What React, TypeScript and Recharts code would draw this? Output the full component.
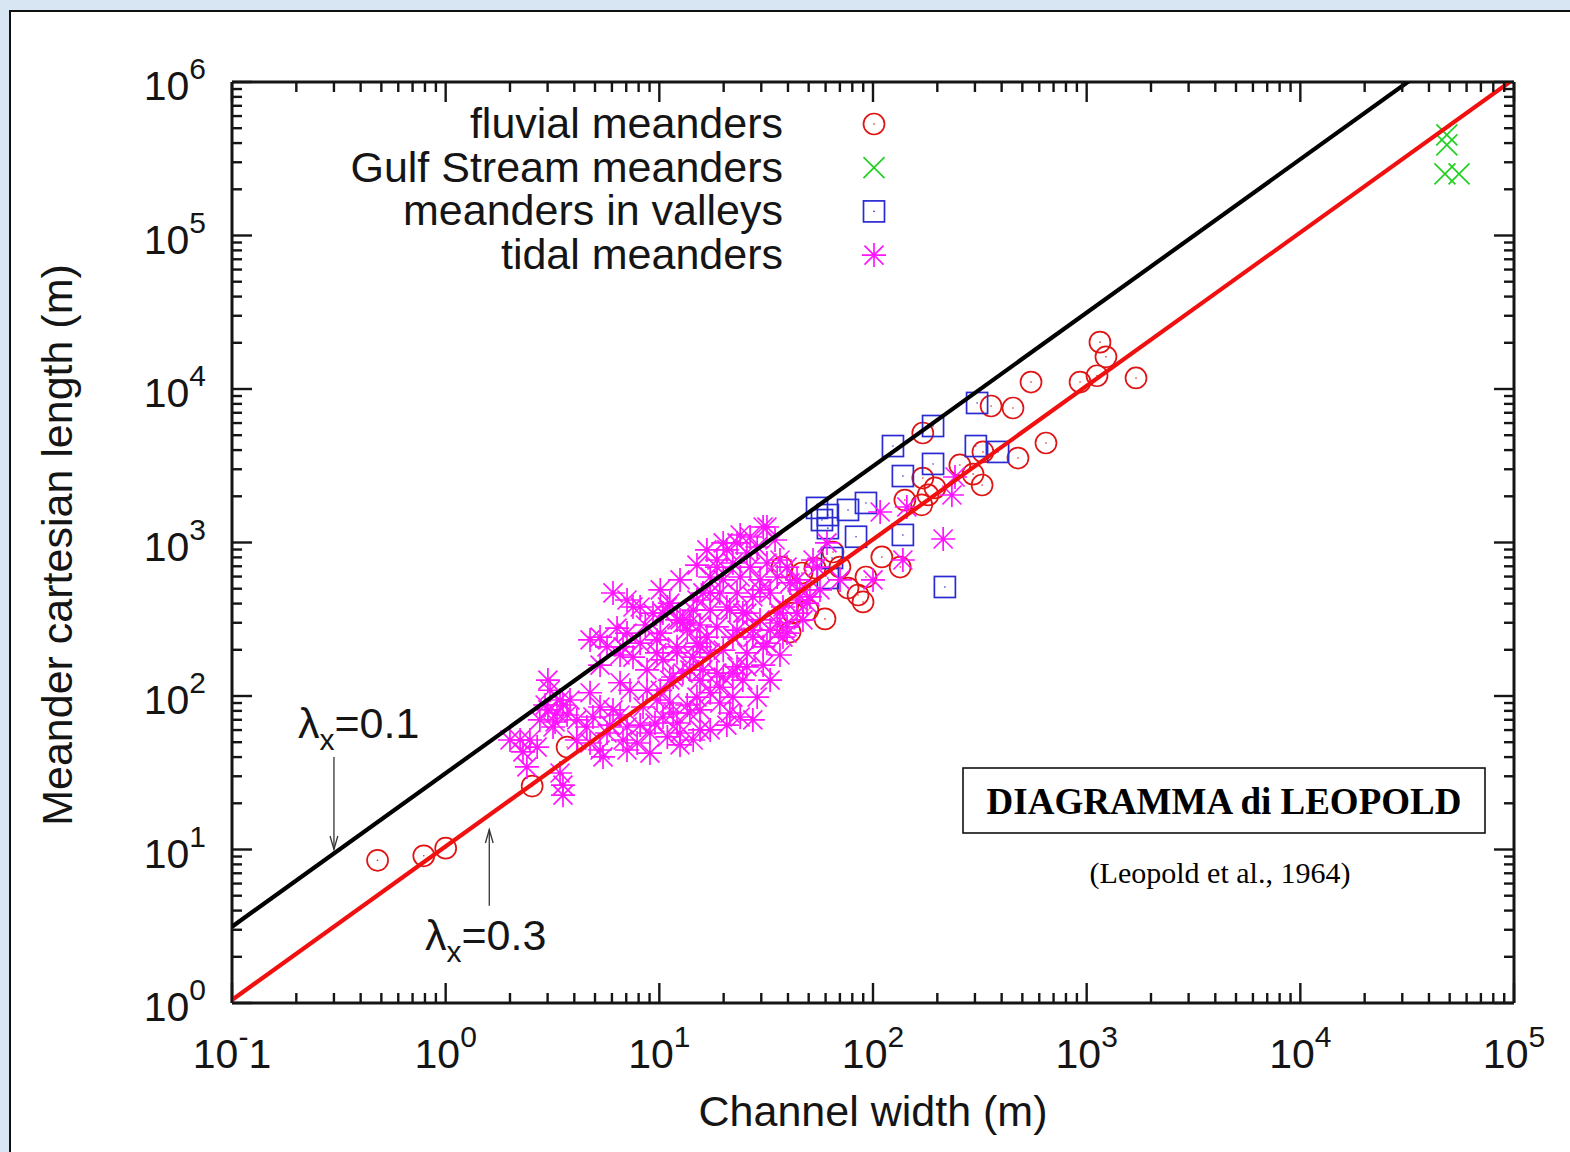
import React from 'react';
import { ScatterChart, Scatter, XAxis, YAxis, ReferenceLine } from 'recharts';

type Pt = { w: number; l: number };
const toPts = (rows: number[][]): Pt[] => rows.map(([w, l]) => ({ w, l }));

// Channel width W (m) vs meander cartesian length L (m)
const fluvialMeanders = toPts([
  [0.48, 8.5], [0.79, 9.1], [1.0, 10.2], [2.54, 25.9], [3.7, 46.5],
  [37.5, 692], [46.5, 633], [53.5, 682], [65, 867], [70, 692],
  [42.2, 347], [49.6, 363], [59.6, 318], [40.9, 261], [76.4, 505],
  [85.1, 455], [89.8, 410], [92.7, 596], [110, 805], [134, 692],
  [141, 1890], [169, 1760], [171, 2630], [181, 2040], [195, 2270],
  [171, 5170], [255, 3200], [294, 2790], [327, 3890], [324, 2370],
  [357, 7750], [452, 7520], [477, 3550], [549, 11100], [645, 4450],
  [931, 11100], [1118, 12200], [1154, 20200], [1231, 16200], [1702, 11800],
]);

const gulfStreamMeanders = toPts([
  [48500, 452000], [48500, 389000], [47500, 252000], [55300, 252000],
]);

const valleyMeanders = toPts([
  [307, 8110], [191, 5740], [124, 4250], [191, 3250], [138, 2710],
  [303, 4250], [385, 3890], [92.7, 1810], [76.4, 1630], [54.7, 1680],
  [61.5, 1510], [61.5, 1240], [83.3, 1090], [138, 1120], [64.3, 792],
  [61.5, 587], [217, 513], [57.7, 1400],
]);

const tidalMeanders = toPts([
  [2.0, 51.7], [2.23, 51.7], [2.48, 51.7], [2.3, 43.2], [2.68, 46.5], [2.4, 34.5],
  [3.43, 31.5], [3.54, 26.3], [3.54, 22.6], [3.01, 127], [3.08, 109], [3.01, 81.1],
  [3.32, 77.5], [3.54, 87.4], [3.82, 94.2], [4.11, 69.8], [4.58, 62.8], [4.74, 49.4],
  [4.11, 51.7], [5.28, 44.5], [5.69, 57.4], [4.74, 105], [5.28, 84.8], [6.07, 81.1],
  [6.55, 122], [7.29, 109], [6.55, 75.2], [7.06, 62.8], [6.76, 51.7], [7.87, 49.4],
  [9.04, 42.5], [9.04, 57.4], [10.9, 54.1], [12.5, 57.4], [15.5, 60.1], [13.9, 77.5],
  [11.2, 90], [9.75, 94.2], [8.39, 84.8], [10.4, 73], [12.1, 66.7], [15.0, 98.4],
  [17.3, 105], [19.2, 90], [21.4, 77.5], [23.9, 73], [19.9, 133], [23.1, 155],
  [24.6, 127], [16.0, 148], [12.9, 141], [11.2, 127], [8.76, 148], [7.53, 179],
  [9.75, 191], [12.1, 191], [14.4, 179], [17.3, 191], [8.76, 109], [4.74, 232],
  [5.69, 209], [6.76, 209], [5.28, 242], [6.07, 469], [7.06, 422], [8.13, 380],
  [9.34, 347], [11.2, 403], [12.5, 313], [7.06, 257], [8.13, 221], [9.75, 232],
  [12.1, 209], [13.5, 269], [15.0, 422], [15.0, 221], [10.4, 347], [12.9, 299],
  [15.5, 290], [18.6, 282], [23.1, 269], [27.4, 242], [31.9, 221], [10.1, 257],
  [15.5, 209], [19.9, 199], [25.7, 191], [10.4, 172], [14.4, 363], [17.3, 363],
  [21.4, 363], [25.7, 347], [29.6, 313], [35.6, 299], [39.6, 257], [16.0, 469],
  [19.2, 469], [23.1, 469], [27.4, 442], [33.0, 469], [37.9, 380], [44.1, 422],
  [50.7, 442], [17.3, 596], [19.9, 570], [23.9, 596], [29.6, 570], [35.6, 596],
  [40.9, 545], [18.6, 769], [22.1, 735], [26.6, 692], [31.9, 735], [20.7, 894],
  [23.1, 993], [25.7, 854], [28.7, 935], [26.6, 1086], [30.6, 1262], [54.7, 692],
  [60.9, 993], [39.6, 692], [44.1, 570], [36.7, 347], [52.4, 769], [70.1, 570],
  [100, 570], [138, 769], [213, 1054], [108, 1580], [144, 1703], [242, 2672],
  [234, 2039], [3.18, 62.8], [2.76, 69.8], [5.45, 40.1], [7.06, 44.5], [10.1, 109],
  [11.6, 77.5], [22.1, 98.4], [19.2, 114], [22.1, 141], [18.6, 141], [15.5, 127],
  [13.9, 148], [11.6, 133], [25.7, 155], [30.6, 209], [22.1, 242], [16.7, 242],
  [27.4, 269], [37.9, 242], [39.6, 282], [44.1, 347], [49.1, 403], [45.5, 491],
  [31.9, 1262], [19.9, 993], [18.6, 692], [7.53, 380], [10.9, 380], [12.1, 313],
  [13.9, 299], [17.3, 469], [20.7, 380], [24.6, 347], [29.6, 491],
  [2.92, 87.4], [3.43, 94.2], [3.25, 67.7], [3.7, 75.2], [4.89, 73], [5.87, 64.7],
  [8.13, 64.7], [9.54, 66.7], [12.5, 48], [14.4, 51.7], [17.3, 60.1], [20.7, 64.7],
  [27.4, 69.8], [15.5, 81.1], [13.5, 87.4], [28.7, 98.4], [33.0, 127], [30.6, 159],
  [36.7, 185], [33.0, 269], [47.0, 313], [56.5, 491], [6.55, 185], [5.28, 159],
  [6.34, 277], [8.6, 290], [10.1, 491], [12.5, 570], [15.0, 713], [16.7, 894],
  [23.9, 1119], [34.8, 1038], [36.7, 769],
]);

const seriesNames = ['fluvial meanders', 'Gulf Stream meanders', 'meanders in valleys', 'tidal meanders'];

// Axis decades (exponents of ten) and minor steps inside each decade
const xDecades = [-1, 0, 1, 2, 3, 4, 5];
const yDecades = [0, 1, 2, 3, 4, 5, 6];
const minorSteps = [2, 3, 4, 5, 6, 7, 8, 9];

// Guide lines L = pi * W / lambda_x
const lambdaLines = [0.1, 0.3];
// Arrow annotations: [lambda, W, L at tail, L at tip]
const lambdaArrows = [
  [0.1, 0.3, 40, 10],
  [0.3, 1.6, 4.3, 13.5],
];

const FONT = '"Liberation Sans", Arial, Helvetica, sans-serif';
const SERIF = '"Liberation Serif", "Times New Roman", serif';
const INK = '#151515';
const C_FLUVIAL = '#e01414';
const C_GULF = '#22d022';
const C_VALLEY = '#2a2ad2';
const C_TIDAL = '#ff14ff';

const X_MIN = Math.pow(10, xDecades[0]);
const X_MAX = Math.pow(10, xDecades[xDecades.length - 1]);
const Y_MIN = Math.pow(10, yDecades[0]);
const Y_MAX = Math.pow(10, yDecades[yDecades.length - 1]);

const buildTicks = (decades: number[]) => {
  const out: number[] = [];
  decades.forEach((d, i) => {
    const base = Math.pow(10, d);
    out.push(base);
    if (i < decades.length - 1) minorSteps.forEach((m) => out.push(m * base));
  });
  return out;
};
const xTicks = buildTicks(xDecades);
const yTicks = buildTicks(yDecades);

const isMajor = (v: number) => Math.abs(Math.log10(v) - Math.round(Math.log10(v))) < 1e-6;

const MAJOR = 20;
const MINOR = 10;
const TICK_W = 2.4;

const DecadeLabel = ({ x, y, exp, anchor }: { x: number; y: number; exp: number; anchor: 'middle' | 'end' }) => (
  <text x={x} y={y} textAnchor={anchor} fontFamily={FONT} fontSize={41} fill={INK}>
    <tspan>10</tspan>
    {exp < 0 ? (
      <>
        <tspan dy={-21} fontSize={30}>-</tspan>
        <tspan dy={21}>{Math.abs(exp)}</tspan>
      </>
    ) : (
      <tspan dy={-21} fontSize={30}>{exp}</tspan>
    )}
  </text>
);

const BottomTick = (p: any) => {
  const { x, y, payload } = p;
  const major = isMajor(payload.value);
  return (
    <g>
      <line x1={x} y1={y} x2={x} y2={y - (major ? MAJOR : MINOR)} stroke={INK} strokeWidth={TICK_W} />
      {major && <DecadeLabel x={x} y={y + 65} exp={Math.round(Math.log10(payload.value))} anchor="middle" />}
    </g>
  );
};

const TopTick = (p: any) => {
  const { x, y, payload } = p;
  const major = isMajor(payload.value);
  return <line x1={x} y1={y} x2={x} y2={y + (major ? MAJOR : MINOR)} stroke={INK} strokeWidth={TICK_W} />;
};

const LeftTick = (p: any) => {
  const { x, y, payload } = p;
  const major = isMajor(payload.value);
  return (
    <g>
      <line x1={x} y1={y} x2={x + (major ? MAJOR : MINOR)} y2={y} stroke={INK} strokeWidth={TICK_W} />
      {major && <DecadeLabel x={x - 26} y={y + 18} exp={Math.round(Math.log10(payload.value))} anchor="end" />}
    </g>
  );
};

const RightTick = (p: any) => {
  const { x, y, payload } = p;
  const major = isMajor(payload.value);
  return <line x1={x} y1={y} x2={x - (major ? MAJOR : MINOR)} y2={y} stroke={INK} strokeWidth={TICK_W} />;
};

type Kind = 'ring' | 'cross' | 'square' | 'star';

const Marker = ({ kind, cx, cy }: { kind: Kind; cx: number; cy: number }) => {
  const sw = 1.7;
  if (kind === 'ring') {
    return (
      <g>
        <circle cx={cx} cy={cy} r={10.5} fill="none" stroke={C_FLUVIAL} strokeWidth={sw} />
        <circle cx={cx} cy={cy} r={0.8} fill={C_FLUVIAL} />
      </g>
    );
  }
  if (kind === 'square') {
    return (
      <g>
        <rect x={cx - 10.5} y={cy - 10.5} width={21} height={21} fill="none" stroke={C_VALLEY} strokeWidth={sw} />
        <circle cx={cx} cy={cy} r={0.8} fill={C_VALLEY} />
      </g>
    );
  }
  if (kind === 'cross') {
    const s = 10.5;
    return (
      <path
        d={`M${cx - s},${cy - s}L${cx + s},${cy + s}M${cx - s},${cy + s}L${cx + s},${cy - s}`}
        stroke={C_GULF}
        strokeWidth={sw}
        fill="none"
      />
    );
  }
  const a = 12;
  const b = 9.5;
  return (
    <path
      d={`M${cx - a},${cy}L${cx + a},${cy}M${cx},${cy - a}L${cx},${cy + a}M${cx - b},${cy - b}L${cx + b},${cy + b}M${cx - b},${cy + b}L${cx + b},${cy - b}`}
      stroke={C_TIDAL}
      strokeWidth={sw}
      fill="none"
    />
  );
};

const shapeOf = (kind: Kind) => (p: any) => <Marker kind={kind} cx={p.cx} cy={p.cy} />;

const ArrowShape = (p: any) => {
  const { x1, y1, x2, y2 } = p;
  const ang = Math.atan2(y2 - y1, x2 - x1);
  const L = 14;
  const spread = 0.28;
  const ax = x2 - L * Math.cos(ang - spread);
  const ay = y2 - L * Math.sin(ang - spread);
  const bx = x2 - L * Math.cos(ang + spread);
  const by = y2 - L * Math.sin(ang + spread);
  return (
    <g>
      <line x1={x1} y1={y1} x2={x2} y2={y2} stroke="#333" strokeWidth={1.3} />
      <polyline points={`${ax},${ay} ${x2},${y2} ${bx},${by}`} fill="none" stroke="#333" strokeWidth={1.3} />
    </g>
  );
};

const legendKinds: Kind[] = ['ring', 'cross', 'square', 'star'];

export default function App() {
  const W = 1570;
  const H = 1152;
  return (
    <div style={{ position: 'absolute', left: 0, top: 0, width: W, height: H, overflow: 'hidden', background: '#d8e5f3' }}>
      <div
        style={{
          position: 'absolute',
          left: 9,
          top: 10,
          width: 1620,
          height: 1220,
          background: '#ffffff',
          border: '2px solid #111',
          boxSizing: 'border-box',
        }}
      />
      <div style={{ position: 'absolute', left: 0, top: 0 }}>
        <ScatterChart width={W} height={H} margin={{ top: 62, right: 36, bottom: 89, left: 132 }}>
          <XAxis
            xAxisId="b"
            dataKey="w"
            type="number"
            scale="log"
            domain={[X_MIN, X_MAX]}
            allowDataOverflow
            ticks={xTicks}
            interval={0}
            tick={BottomTick}
            tickLine={false}
            tickSize={0}
            tickMargin={0}
            height={60}
            axisLine={{ stroke: INK, strokeWidth: 3 }}
          />
          <XAxis
            xAxisId="t"
            orientation="top"
            dataKey="w"
            type="number"
            scale="log"
            domain={[X_MIN, X_MAX]}
            allowDataOverflow
            ticks={xTicks}
            interval={0}
            tick={TopTick}
            tickLine={false}
            tickSize={0}
            tickMargin={0}
            height={20}
            axisLine={{ stroke: INK, strokeWidth: 3 }}
          />
          <YAxis
            yAxisId="l"
            dataKey="l"
            type="number"
            scale="log"
            domain={[Y_MIN, Y_MAX]}
            allowDataOverflow
            ticks={yTicks}
            interval={0}
            tick={LeftTick}
            tickLine={false}
            tickSize={0}
            tickMargin={0}
            width={100}
            axisLine={{ stroke: INK, strokeWidth: 3 }}
          />
          <YAxis
            yAxisId="r"
            orientation="right"
            dataKey="l"
            type="number"
            scale="log"
            domain={[Y_MIN, Y_MAX]}
            allowDataOverflow
            ticks={yTicks}
            interval={0}
            tick={RightTick}
            tickLine={false}
            tickSize={0}
            tickMargin={0}
            width={20}
            axisLine={{ stroke: INK, strokeWidth: 3 }}
          />
          <Scatter name={seriesNames[0]} data={fluvialMeanders} xAxisId="b" yAxisId="l" shape={shapeOf('ring')} isAnimationActive={false} />
          <Scatter name={seriesNames[1]} data={gulfStreamMeanders} xAxisId="b" yAxisId="l" shape={shapeOf('cross')} isAnimationActive={false} />
          <Scatter name={seriesNames[2]} data={valleyMeanders} xAxisId="b" yAxisId="l" shape={shapeOf('square')} isAnimationActive={false} />
          <Scatter name={seriesNames[3]} data={tidalMeanders} xAxisId="b" yAxisId="l" shape={shapeOf('star')} isAnimationActive={false} />
          {lambdaLines.map((lam, i) => (
            <ReferenceLine
              key={`lam-${lam}`}
              xAxisId="b"
              yAxisId="l"
              segment={[
                { x: X_MIN, y: (Math.PI * X_MIN) / lam },
                { x: X_MAX, y: (Math.PI * X_MAX) / lam },
              ]}
              ifOverflow="hidden"
              stroke={i === 0 ? '#000000' : '#f01010'}
              strokeWidth={4.2}
              zIndex={700}
            />
          ))}
          {lambdaArrows.map(([lam, w, l0, l1]) => (
            <ReferenceLine
              key={`arrow-${lam}`}
              xAxisId="b"
              yAxisId="l"
              segment={[
                { x: w, y: l0 },
                { x: w, y: l1 },
              ]}
              ifOverflow="visible"
              shape={ArrowShape}
              zIndex={700}
            />
          ))}
        </ScatterChart>
      </div>
      <svg
        width={W}
        height={H}
        style={{ position: 'absolute', left: 0, top: 0, pointerEvents: 'none' }}
      >
        {seriesNames.map((name, i) => (
          <g key={name}>
            <text x={783} y={138 + i * 43.7} textAnchor="end" fontFamily={FONT} fontSize={43} fill={INK}>
              {name}
            </text>
            <Marker kind={legendKinds[i]} cx={874} cy={124 + i * 43.7} />
          </g>
        ))}
        <text x={873} y={1126} textAnchor="middle" fontFamily={FONT} fontSize={43} fill={INK}>
          Channel width (m)
        </text>
        <text
          x={0}
          y={0}
          transform="translate(72,545) rotate(-90)"
          textAnchor="middle"
          fontFamily={FONT}
          fontSize={43}
          fill={INK}
        >
          Meander cartesian length (m)
        </text>
        <text x={298} y={738} fontFamily={FONT} fontSize={43} fill={INK}>
          <tspan>λ</tspan>
          <tspan dy={12} fontSize={30}>x</tspan>
          <tspan dy={-12}>=0.1</tspan>
        </text>
        <text x={425} y={950} fontFamily={FONT} fontSize={43} fill={INK}>
          <tspan>λ</tspan>
          <tspan dy={12} fontSize={30}>x</tspan>
          <tspan dy={-12}>=0.3</tspan>
        </text>
        <rect x={963} y={768} width={522} height={65} fill="#ffffff" stroke="#111" strokeWidth={1.6} />
        <text x={1224} y={814} textAnchor="middle" fontFamily={SERIF} fontWeight="bold" fontSize={37} fill="#000">
          DIAGRAMMA di LEOPOLD
        </text>
        <text x={1220} y={883} textAnchor="middle" fontFamily={SERIF} fontSize={30} fill="#000">
          (Leopold et al., 1964)
        </text>
      </svg>
    </div>
  );
}
